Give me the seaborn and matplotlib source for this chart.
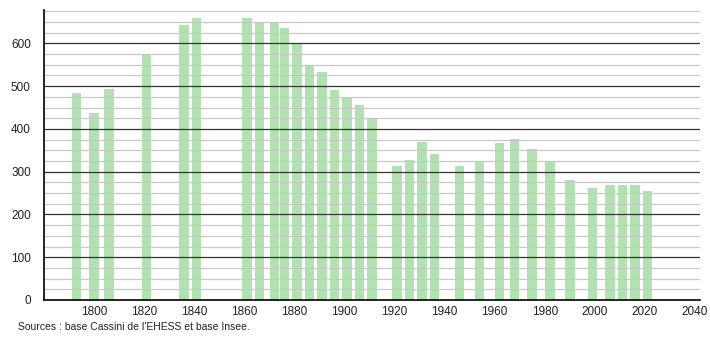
import matplotlib
matplotlib.use("Agg")
import matplotlib.pyplot as plt
import seaborn as sns
import pandas as pd
from matplotlib.ticker import MultipleLocator

years = [1793, 1800, 1806, 1821, 1836, 1841, 1861, 1866, 1872, 1876, 1881, 1886,
         1891, 1896, 1901, 1906, 1911, 1921, 1926, 1931, 1936, 1946, 1954, 1962,
         1968, 1975, 1982, 1990, 1999, 2006, 2011, 2016, 2021]
population = [483, 437, 494, 575, 642, 660, 660, 650, 650, 637, 599, 546,
              532, 490, 474, 455, 426, 314, 328, 370, 342, 314, 322, 366,
              377, 354, 322, 281, 261, 268, 268, 268, 254]
x_ticks = [1800, 1820, 1840, 1860, 1880, 1900, 1920, 1940, 1960, 1980, 2000, 2020, 2040]
y_ticks = [0, 100, 200, 300, 400, 500, 600]
source_text = "Sources : base Cassini de l'EHESS et base Insee."

sns.set_style("white")
plt.rcParams['font.family'] = ['Liberation Sans', 'DejaVu Sans']

df = pd.DataFrame({"year": years, "pop": population})

fig = plt.figure(figsize=(7.1, 3.4), dpi=100)
ax = fig.add_axes([44/710, 40/340, (700-44)/710, (300-10)/340])

sns.barplot(data=df, x="year", y="pop", native_scale=True, width=0.95,
            color="#b2e2b2", saturation=1, edgecolor="none", ax=ax, zorder=1)

ax.set_xlim(1780, 2042)
ax.set_ylim(0, 678)
ax.set_xticks(x_ticks)
ax.set_xticklabels([str(t) for t in x_ticks])
ax.set_yticks(y_ticks)
ax.yaxis.set_minor_locator(MultipleLocator(25))

ax.grid(False)
for v in range(25, 700, 25):
    if v % 100 == 0:
        ax.axhline(v, color="#333333", lw=0.9, zorder=3)
    else:
        ax.axhline(v, color="#c8c8c8", lw=0.9, zorder=3)

for s in ["top", "right"]:
    ax.spines[s].set_visible(False)
ax.spines["left"].set_color("black")
ax.spines["bottom"].set_color("black")
ax.spines["left"].set_linewidth(1.2)
ax.spines["bottom"].set_linewidth(1.2)
ax.spines["left"].set_zorder(4)
ax.spines["bottom"].set_zorder(4)

ax.tick_params(axis="x", which="both", length=0, labelsize=8.5, pad=4, colors="#222222")
ax.tick_params(axis="y", which="major", length=6, width=1, direction="out", labelsize=8.5, colors="#222222")
ax.tick_params(axis="y", which="minor", length=3, width=1, direction="out", color="black")
ax.tick_params(axis="y", which="major", color="black")

ax.set_xlabel("")
ax.set_ylabel("")

fig.text(18/710, 1 - 327/340, source_text, fontsize=7.5, color="#222222", va="center", ha="left")

fig.savefig("out.png", dpi=100)
